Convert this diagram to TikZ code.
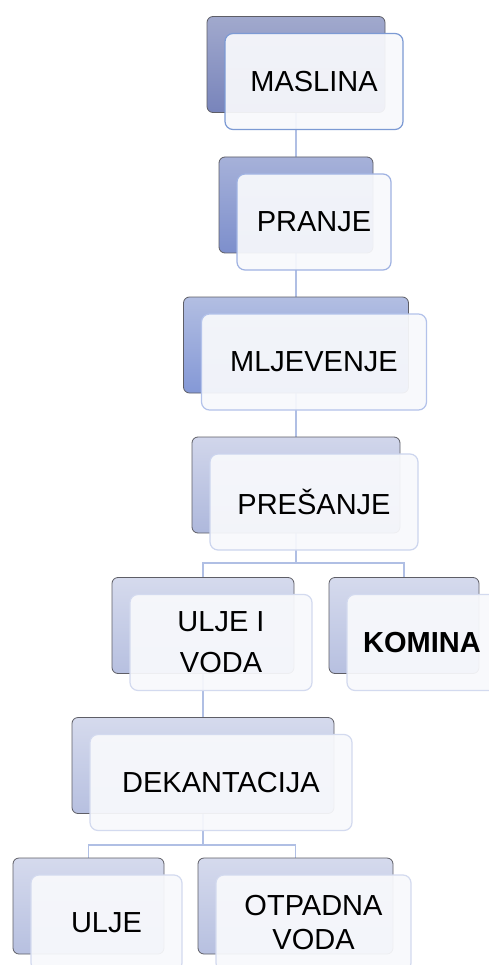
\documentclass[tikz,border=0pt]{standalone}
\usepackage{fontspec}
\setmainfont{Liberation Sans}
\usetikzlibrary{calc,backgrounds}
\definecolor{conn}{HTML}{B0BFE4}
\definecolor{frontfill}{HTML}{F8F9FC}
\definecolor{backline}{HTML}{5E5E66}
\definecolor{aTop}{HTML}{A1A9CD}\definecolor{aBot}{HTML}{7884BB}\definecolor{aLine}{HTML}{7C9AD4}
\definecolor{bTop}{HTML}{A6B1D9}\definecolor{bBot}{HTML}{7D8FCC}\definecolor{bLine}{HTML}{9FB2E2}
\definecolor{cTop}{HTML}{B2BEE2}\definecolor{cBot}{HTML}{8498D6}\definecolor{cLine}{HTML}{B3C2EA}
\definecolor{dTop}{HTML}{D1D6EB}\definecolor{dBot}{HTML}{AEB8DC}\definecolor{dLine}{HTML}{CCD5EE}
\definecolor{eTop}{HTML}{D5DAED}\definecolor{eBot}{HTML}{B7C0E0}\definecolor{eLine}{HTML}{D3DAEF}
\tikzset{
  backbox/.style={rectangle, rounded corners=6pt, draw=backline, line width=0.8pt,
    minimum height=96pt, inner sep=0pt},
  frontbox/.style={rectangle, rounded corners=8pt, line width=1.2pt, fill=frontfill,
    fill opacity=0.93, text opacity=1, minimum height=96pt, inner sep=0pt, align=center,
    font=\fontsize{29}{34}\selectfont},
  lvA/.style={top color=aTop, bottom color=aBot}, lvAfront/.style={draw=aLine},
  lvB/.style={top color=bTop, bottom color=bBot}, lvBfront/.style={draw=bLine},
  lvC/.style={top color=cTop, bottom color=cBot}, lvCfront/.style={draw=cLine},
  lvD/.style={top color=dTop, bottom color=dBot}, lvDfront/.style={draw=dLine},
  lvE/.style={top color=eTop, bottom color=eBot}, lvEfront/.style={draw=eLine},
  link/.style={draw=conn, line width=1.6pt},
}
% name, x, y (back centre), width, level, text
\newcommand\procbox[6]{%
  \node[backbox,lv#5,minimum width=#4] (#1b) at (#2,#3) {};
  \node[frontbox,lv#5front,minimum width=#4] (#1) at ($(#1b)+(18,17)$) {#6};}
\begin{document}
\begin{tikzpicture}[x=1pt,y=-1pt]
\useasboundingbox (0,0) rectangle (488,965);
\procbox{mas}{296}{64.5}{178}{A}{MASLINA}
\procbox{pra}{296}{205}{154}{B}{PRANJE}
\procbox{mlj}{296}{345}{225}{C}{MLJEVENJE}
\procbox{pre}{296}{485}{208}{D}{PREŠANJE}
\procbox{uv}{203}{625.5}{182}{E}{ULJE I\\[7pt]VODA}
\procbox{kom}{404}{625.5}{150}{E}{\textbf{KOMINA}}
\procbox{dek}{203}{765.5}{262}{E}{DEKANTACIJA}
\procbox{ulj}{88.5}{906}{151}{E}{ULJE}
\procbox{otp}{295.5}{906}{195}{E}{OTPADNA\\VODA}
\coordinate (j1) at (296,563);
\coordinate (j2) at (203,845);
\begin{pgfonlayer}{background}
\fill[white] (0,0) rectangle (488,965);
\draw[link] (masb.south) -- (prab.north);
\draw[link] (prab.south) -- (mljb.north);
\draw[link] (mljb.south) -- (preb.north);
\draw[link] (preb.south) -- (j1) -| (uvb.north);
\draw[link] (j1) -| (komb.north);
\draw[link] (uvb.south) -- (dekb.north);
\draw[link] (dekb.south) -- (j2) -| (uljb.north);
\draw[link] (j2) -| (otpb.north);
\end{pgfonlayer}
\end{tikzpicture}
\end{document}
